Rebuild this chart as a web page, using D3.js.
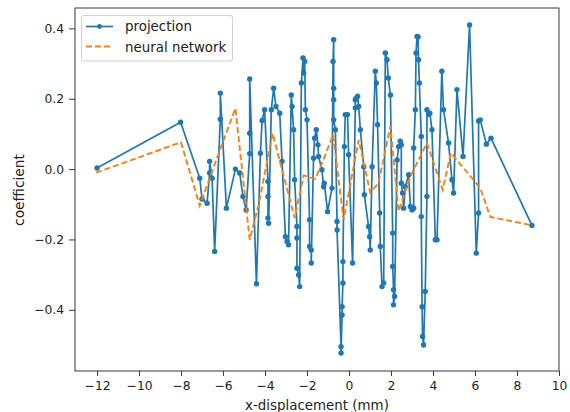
<!DOCTYPE html>
<html>
<head>
<meta charset="utf-8">
<script src="https://cdn.jsdelivr.net/npm/d3@7"></script>
<style>
  body { margin: 0; background: #fff; }
  svg { font-family: 'DejaVu Sans', sans-serif; }
</style>
</head>
<body>
<svg id="chart" width="570" height="412"></svg>
<script>
// projection: coefficient vs x-displacement (mm)
var projX = [-12.0, -8.02, -7.11, -7.0, -6.76, -6.64, -6.64, -6.52, -6.40, -6.13, -6.13, -5.84, -5.41, -5.21, -5.05, -4.90,
  -4.73, -4.73, -4.73, -4.41, -4.22, -4.14, -4.02, -3.86, -3.86, -3.86, -3.83, -3.70, -3.59, -3.48, -3.30, -3.19,
  -3.03, -2.95, -2.88, -2.75, -2.71, -2.64, -2.59, -2.48, -2.48, -2.48, -2.40, -2.35, -2.27, -2.19, -2.16, -2.11,
  -2.08, -2.0, -1.88, -1.88, -1.80, -1.80, -1.69, -1.64, -1.56, -1.48, -1.45, -1.29, -1.21, -1.18, -1.02, -0.81,
  -0.76, -0.73, -0.73, -0.73, -0.73, -0.65, -0.57, -0.57, -0.38, -0.38, -0.33, -0.33, -0.29, -0.29, -0.22, -0.18,
  -0.07, -0.02, 0.17, 0.30, 0.30, 0.35, 0.41, 0.46, 0.54, 0.70, 0.73, 0.93, 0.98, 1.01, 1.10, 1.25,
  1.30, 1.36, 1.46, 1.49, 1.57, 1.65, 1.73, 1.81, 1.87, 1.97, 2.08, 2.08, 2.12, 2.12, 2.17, 2.29,
  2.36, 2.44, 2.49, 2.49, 2.55, 2.60, 2.68, 2.84, 2.92, 3.0, 3.08, 3.08, 3.16, 3.19, 3.24, 3.29,
  3.31, 3.35, 3.44, 3.44, 3.48, 3.50, 3.55, 3.63, 3.71, 3.71, 3.79, 3.85, 3.95, 4.11, 4.19, 4.42,
  4.50, 4.74, 4.90, 4.98, 5.14, 5.43, 5.74, 6.06, 6.17, 6.17, 6.25, 6.54, 6.76, 8.71]
var projY = [0.003, 0.133, -0.026, -0.085, -0.097, -0.011, 0.022, -0.026, -0.234, 0.142, 0.216, -0.111, 0.0, -0.011, -0.078, -0.116,
  0.044, 0.102, 0.256, -0.326, 0.045, 0.138, 0.169, -0.035, -0.078, -0.139, -0.154, 0.169, 0.230, 0.178, 0.159, 0.022,
  -0.192, -0.206, -0.215, 0.211, 0.178, 0.112, -0.030, -0.163, -0.196, -0.282, -0.301, -0.334, 0.245, 0.316, 0.273, 0.306,
  0.169, 0.140, -0.144, -0.220, -0.230, -0.267, 0.031, 0.088, 0.112, 0.069, 0.036, -0.002, -0.050, -0.040, -0.121, -0.054,
  0.306, 0.368, 0.230, 0.197, 0.140, 0.112, -0.149, -0.173, -0.505, -0.523, -0.415, -0.391, -0.324, -0.263, 0.064, 0.155,
  0.155, 0.041, -0.267, 0.174, 0.197, 0.202, 0.207, 0.178, 0.112, 0.007, -0.073, -0.163, -0.192, -0.230, 0.007, 0.278,
  0.245, 0.126, -0.125, -0.220, -0.334, -0.324, 0.330, 0.311, 0.259, 0.211, -0.182, -0.277, -0.343, -0.386, -0.362, 0.026,
  0.064, 0.079, 0.069, -0.040, -0.068, -0.111, -0.050, -0.016, -0.106, -0.116, -0.111, 0.060, 0.169, 0.330, 0.377, 0.376,
  0.311, 0.245, 0.093, -0.135, -0.391, -0.476, -0.500, -0.348, -0.078, 0.169, 0.155, 0.159, 0.112, -0.201, -0.201, 0.278,
  0.169, 0.074, -0.030, -0.068, 0.226, 0.036, 0.410, -0.239, -0.125, 0.137, 0.140, 0.071, 0.088, -0.160]

// neural network prediction
var nnX = [-12.05, -8.0, -7.11, -6.3, -5.41, -4.73, -4.3, -3.64, -2.59, -2.16, -1.6, -1.13, -0.76, -0.26, 0.46, 1.01,
  1.4, 1.97, 2.36, 2.92, 3.71, 4.46, 4.85, 6.25, 6.73, 8.71]
var nnY = [-0.010, 0.076, -0.104, 0.030, 0.173, -0.201, -0.100, 0.102, -0.139, -0.018, -0.028, 0.040, 0.098, -0.144, 0.083, -0.067,
  -0.040, 0.121, -0.120, -0.021, 0.074, -0.059, 0.046, -0.054, -0.136, -0.160]

var xTicks = [-12, -10, -8, -6, -4, -2, 0, 2, 4, 6, 8, 10]
var yTicks = [-0.4, -0.2, 0.0, 0.2, 0.4]

var blue = '#1f77b4', orange = '#ff7f0e'
var svg = d3.select('#chart')

var x = d3.scaleLinear().domain([-13.05, 10]).range([75, 559])
var y = d3.scaleLinear().domain([-0.574, 0.458]).range([371, 8])

var minus = function(s) { return s.replace('-', '\u2212') }

var xAxis = svg.append('g')
    .attr('transform', 'translate(0,371)')
    .call(d3.axisBottom(x).tickValues(xTicks).tickSize(5).tickPadding(5)
        .tickFormat(function(d) { return minus(d3.format('d')(d)) }))
var yAxis = svg.append('g')
    .attr('transform', 'translate(75,0)')
    .call(d3.axisLeft(y).tickValues(yTicks).tickSize(6).tickPadding(5)
        .tickFormat(function(d) { return minus(d3.format('.1f')(d)) }))

svg.selectAll('.domain').remove()
svg.selectAll('.tick line').attr('stroke', '#222').attr('stroke-width', 0.9)
svg.selectAll('.tick text').attr('font-size', '12.3px').attr('fill', '#222')
    .attr('font-family', 'DejaVu Sans')

// frame
svg.append('rect')
    .attr('x', 75).attr('y', 8).attr('width', 484).attr('height', 363)
    .attr('fill', 'none').attr('stroke', '#222').attr('stroke-width', 0.9)

var proj = projX.map(function(d, i) { return [d, projY[i]] })
var nn = nnX.map(function(d, i) { return [d, nnY[i]] })

var line = d3.line().x(function(d) { return x(d[0]) }).y(function(d) { return y(d[1]) })

svg.append('path')
    .attr('d', line(proj))
    .attr('fill', 'none')
    .attr('stroke', blue)
    .attr('stroke-width', 1.7)
    .attr('stroke-linejoin', 'round')

svg.selectAll('.pt')
    .data(proj)
    .enter().append('circle')
    .attr('class', 'pt')
    .attr('cx', function(d) { return x(d[0]) })
    .attr('cy', function(d) { return y(d[1]) })
    .attr('r', 2.7)
    .attr('fill', blue)

svg.append('path')
    .attr('d', line(nn))
    .attr('fill', 'none')
    .attr('stroke', orange)
    .attr('stroke-width', 1.9)
    .attr('stroke-dasharray', '6,3')

// legend
var legend = svg.append('g')
legend.append('rect')
    .attr('x', 81.5).attr('y', 15.5).attr('width', 151).attr('height', 45.5)
    .attr('rx', 2)
    .attr('fill', 'white').attr('fill-opacity', 0.8)
    .attr('stroke', '#ccc').attr('stroke-width', 0.9)
legend.append('line')
    .attr('x1', 86).attr('x2', 113).attr('y1', 26.5).attr('y2', 26.5)
    .attr('stroke', blue).attr('stroke-width', 1.7)
legend.append('circle')
    .attr('cx', 99.5).attr('cy', 26.5).attr('r', 2.4).attr('fill', blue)
legend.append('text')
    .text('projection')
    .attr('x', 125).attr('y', 30.7)
    .attr('font-size', '13.4px').attr('fill', '#222')
legend.append('line')
    .attr('x1', 86).attr('x2', 113).attr('y1', 46.5).attr('y2', 46.5)
    .attr('stroke', orange).attr('stroke-width', 1.9)
    .attr('stroke-dasharray', '6,3')
legend.append('text')
    .text('neural network')
    .attr('x', 125).attr('y', 51.5)
    .attr('font-size', '13.4px').attr('fill', '#222')

// axis titles
svg.append('text')
    .text('x-displacement (mm)')
    .attr('x', 317).attr('y', 409.5)
    .attr('text-anchor', 'middle')
    .attr('font-size', '13.4px').attr('fill', '#222')
svg.append('text')
    .text('coefficient')
    .attr('transform', 'translate(24,190) rotate(-90)')
    .attr('text-anchor', 'middle')
    .attr('font-size', '13.8px').attr('fill', '#222')
</script>
</body>
</html>
